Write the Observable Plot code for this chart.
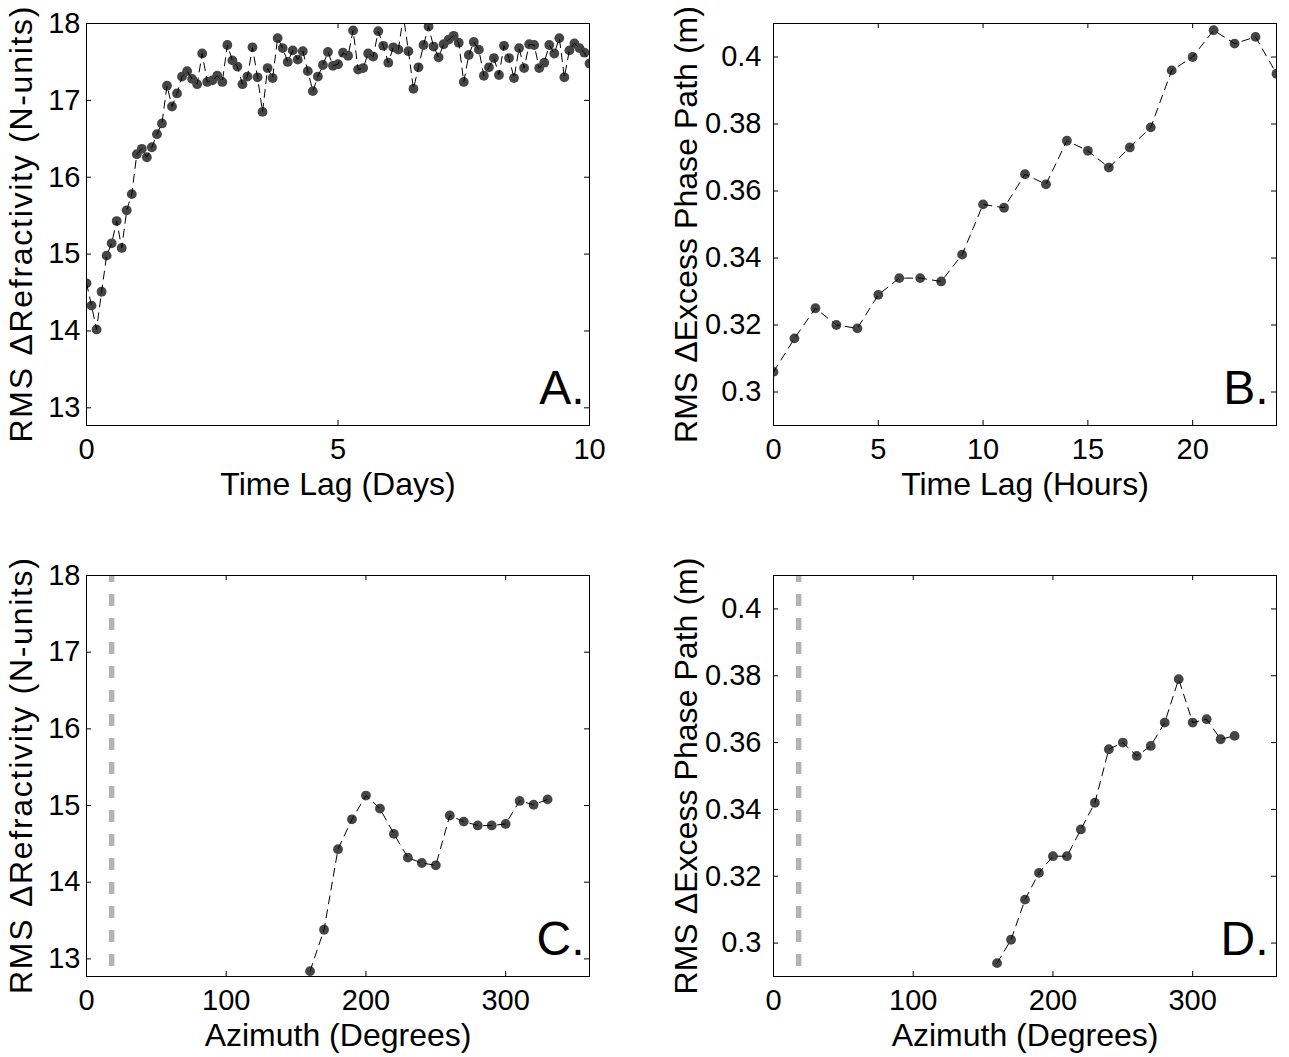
<!DOCTYPE html>
<html>
<head>
<meta charset="utf-8">
<script src="https://cdn.jsdelivr.net/npm/d3@7"></script>
<script src="https://cdn.jsdelivr.net/npm/@observablehq/plot@0.6"></script>
<style>
html, body { margin: 0; padding: 0; background: #fff; }
#wrap { position: relative; width: 1289px; height: 1057px; overflow: hidden; background: #fff; }
#wrap > div { position: absolute; }
</style>
</head>
<body>
<div id="wrap">
  <div id="pA" style="left:0px;top:0px"></div>
  <div id="pB" style="left:644px;top:0px"></div>
  <div id="pC" style="left:0px;top:530px"></div>
  <div id="pD" style="left:644px;top:530px"></div>
</div>
<script>
// ---------------- data ----------------
const lagDays = [0,0.1,0.2,0.3,0.4,0.5,0.6,0.7,0.8,0.9,
  1,1.1,1.2,1.3,1.4,1.5,1.6,1.7,1.8,1.9,
  2,2.1,2.2,2.3,2.4,2.5,2.6,2.7,2.8,2.9,
  3,3.1,3.2,3.3,3.4,3.5,3.6,3.7,3.8,3.9,
  4,4.1,4.2,4.3,4.4,4.5,4.6,4.7,4.8,4.9,
  5,5.1,5.2,5.3,5.4,5.5,5.6,5.7,5.8,5.9,
  6,6.1,6.2,6.3,6.4,6.5,6.6,6.7,6.8,6.9,
  7,7.1,7.2,7.3,7.4,7.5,7.6,7.7,7.8,7.9,
  8,8.1,8.2,8.3,8.4,8.5,8.6,8.7,8.8,8.9,
  9,9.1,9.2,9.3,9.4,9.5,9.6,9.7,9.8,9.9,
  10];
const refrByDays = [14.62,14.33,14.02,14.51,14.98,15.14,15.43,15.08,15.57,15.78,
  16.30,16.37,16.26,16.39,16.56,16.70,17.19,16.92,17.09,17.31,
  17.38,17.28,17.21,17.61,17.24,17.26,17.32,17.24,17.72,17.52,
  17.44,17.21,17.31,17.69,17.30,16.85,17.42,17.29,17.81,17.68,
  17.50,17.65,17.53,17.64,17.38,17.12,17.31,17.46,17.63,17.45,
  17.47,17.62,17.58,17.91,17.40,17.42,17.61,17.57,17.90,17.71,
  17.49,17.69,17.66,18.10,17.64,17.15,17.43,17.72,17.96,17.70,
  17.56,17.73,17.79,17.84,17.75,17.24,17.59,17.76,17.66,17.32,
  17.43,17.55,17.33,17.71,17.55,17.29,17.68,17.42,17.73,17.72,
  17.42,17.49,17.72,17.61,17.81,17.30,17.65,17.74,17.68,17.62,
  17.48];

const lagHours = [0,1,2,3,4,5,6,7,8,9,10,11,12,13,14,15,16,17,18,19,20,21,22,23,24];
const phaseByHours = [0.306,0.316,0.325,0.320,0.319,0.329,0.334,0.334,0.333,0.341,
  0.356,0.355,0.365,0.362,0.375,0.372,0.367,0.373,0.379,0.396,
  0.400,0.408,0.404,0.406,0.395];

const azimuth = [160,170,180,190,200,210,220,230,240,250,260,270,280,290,300,310,320,330];
const refrByAzimuth = [12.84,13.38,14.43,14.82,15.13,14.96,14.63,14.32,14.25,14.22,
  14.87,14.79,14.74,14.74,14.76,15.06,15.01,15.08];
const phaseByAzimuth = [0.294,0.301,0.313,0.321,0.326,0.326,0.334,0.342,0.358,0.360,
  0.356,0.359,0.366,0.379,0.366,0.367,0.361,0.362];
const referenceAzimuth = [18];

const refrDomain = [12.77, 18];
const phaseDomain = [0.29, 0.41];
const refrTicks = [13, 14, 15, 16, 17, 18];
const phaseTicks = [0.30, 0.32, 0.34, 0.36, 0.38, 0.40];
const dayTicks = [0, 5, 10];
const hourTicks = [0, 5, 10, 15, 20];
const azimuthTicks = [0, 100, 200, 300];

const panelLetters = ["A.", "B.", "C.", "D."];
const xTitles = ["Time Lag (Days)", "Time Lag (Hours)", "Azimuth (Degrees)", "Azimuth (Degrees)"];
const yTitles = ["RMS \u0394Refractivity (N-units)", "RMS \u0394Excess Phase Path (m)"];

// ---------------- drawing ----------------
const FONT = '"Liberation Sans", Arial, Helvetica, sans-serif';

function panel(o) {
  const W = o.width - o.marginLeft - o.marginRight;
  const H = o.height - o.marginTop - o.marginBottom;
  const T = 5;
  const data = o.xs.map((x, i) => ({x, y: o.ys[i]}));
  const svg = Plot.plot({
    width: o.width, height: o.height,
    marginLeft: o.marginLeft, marginRight: o.marginRight,
    marginTop: o.marginTop, marginBottom: o.marginBottom,
    style: {fontFamily: FONT, fontSize: "29px", color: "black", background: "white", overflow: "visible"},
    x: {domain: o.xDomain},
    y: {domain: o.yDomain},
    marks: [
      o.vline ? Plot.ruleX(o.vline, {x: d => d, stroke: "#b4b4b4", strokeWidth: 5.5, strokeDasharray: "12,12", strokeDashoffset: 5}) : null,
      Plot.dot(data, {x: "x", y: "y", r: 4.9, fill: "#454545", stroke: "none", clip: true}),
      Plot.line(data, {x: "x", y: "y", stroke: "black", strokeWidth: 1, strokeDasharray: "8,6", clip: true}),
      Plot.ruleX(o.xTicks, {x: d => d, insetTop: H - T, stroke: "black"}),
      Plot.ruleX(o.xTicks, {x: d => d, insetBottom: H - T, stroke: "black"}),
      Plot.ruleY(o.yTicks, {y: d => d, insetRight: W - T, stroke: "black"}),
      Plot.ruleY(o.yTicks, {y: d => d, insetLeft: W - T, stroke: "black"}),
      Plot.frame({stroke: "black", strokeWidth: 1}),
      Plot.axisX(o.xTicks, {tickSize: 0, tickPadding: 13, label: null, fontSize: 29, tickFormat: d => String(d)}),
      Plot.axisY(o.yTicks, {tickSize: 0, tickPadding: o.yPad, label: null, fontSize: 29, tickFormat: o.yFmt}),
      Plot.text([o.xTitle], {text: d => d, frameAnchor: "bottom", textAnchor: "middle", lineAnchor: "top", dy: 47, fontSize: 32}),
      Plot.text([o.yTitle], {text: d => d, frameAnchor: "left", rotate: -90, textAnchor: "middle", lineAnchor: "middle", dx: o.yTitleDx, fontSize: 32}),
      Plot.text([o.letter], {text: d => d, frameAnchor: "bottom-right", textAnchor: "end", lineAnchor: "bottom", dx: o.letterDx, dy: -22, fontSize: 48})
    ]
  });
  // stretch the rotated y-axis title to the length it has in the reference
  svg.querySelectorAll("text").forEach(t => {
    if (t.textContent === o.yTitle) {
      t.setAttribute("textLength", o.yTitleLength);
      t.setAttribute("lengthAdjust", "spacing");
    }
  });
  return svg;
}

const refrFmt = d => String(d);
const phaseFmt = d3.format(".2~f");

const common = {height: 530, width: 644, marginTop: 23, marginBottom: 105};
const left = {marginLeft: 86, marginRight: 55, yPad: 6, yTitleDx: -65, letterDx: -5, yTitleLength: 436};
const right = {width: 645, marginLeft: 129, marginRight: 13, yPad: 12, yTitleDx: -87, letterDx: -8, yTitleLength: 437};
const lower = {height: 527, marginTop: 45, marginBottom: 81};

document.getElementById("pA").append(panel({
  ...common, ...left,
  xs: lagDays, ys: refrByDays, xDomain: [0, 10], yDomain: refrDomain,
  xTicks: dayTicks, yTicks: refrTicks, yFmt: refrFmt,
  letter: panelLetters[0], xTitle: xTitles[0], yTitle: yTitles[0]
}));
document.getElementById("pB").append(panel({
  ...common, ...right,
  xs: lagHours, ys: phaseByHours, xDomain: [0, 24], yDomain: phaseDomain,
  xTicks: hourTicks, yTicks: phaseTicks, yFmt: phaseFmt,
  letter: panelLetters[1], xTitle: xTitles[1], yTitle: yTitles[1]
}));
document.getElementById("pC").append(panel({
  ...common, ...left, ...lower,
  xs: azimuth, ys: refrByAzimuth, xDomain: [0, 360], yDomain: refrDomain,
  xTicks: azimuthTicks, yTicks: refrTicks, yFmt: refrFmt, vline: referenceAzimuth,
  letter: panelLetters[2], xTitle: xTitles[2], yTitle: yTitles[0]
}));
document.getElementById("pD").append(panel({
  ...common, ...right, ...lower,
  xs: azimuth, ys: phaseByAzimuth, xDomain: [0, 360], yDomain: phaseDomain,
  xTicks: azimuthTicks, yTicks: phaseTicks, yFmt: phaseFmt, vline: referenceAzimuth,
  letter: panelLetters[3], xTitle: xTitles[3], yTitle: yTitles[1]
}));
</script>
</body>
</html>
